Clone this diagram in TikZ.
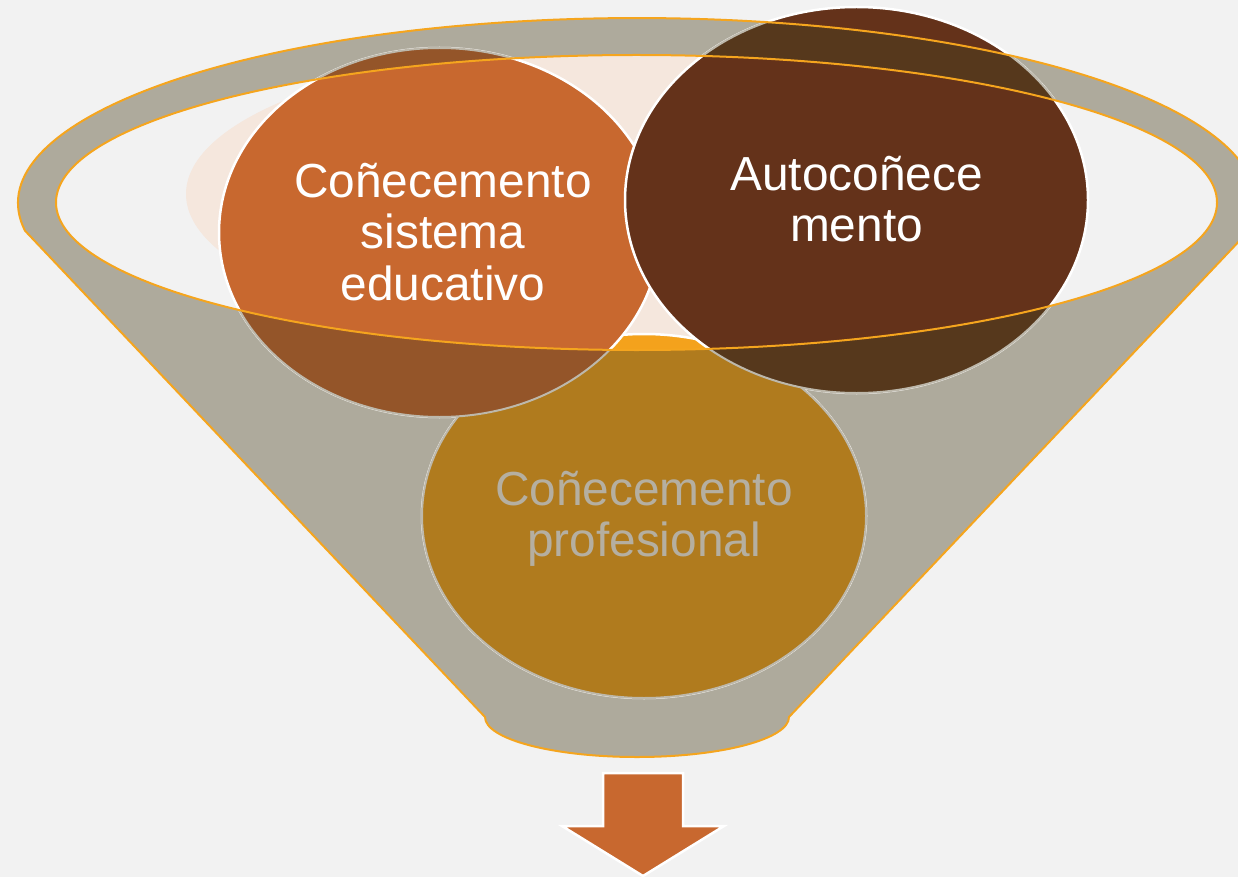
\documentclass[tikz,border=0pt]{standalone}
\usepackage{fontspec}
\setmainfont{Liberation Sans}
\definecolor{bg}{HTML}{F2F2F2}
\definecolor{fgray}{HTML}{AEAA9C}
\definecolor{fline}{HTML}{F5A51E}
\definecolor{peach}{HTML}{F5E7DD}
\definecolor{orng}{HTML}{C8682F}
\definecolor{orngD}{HTML}{945529}
\definecolor{brwn}{HTML}{64321A}
\definecolor{brwnD}{HTML}{56381C}
\definecolor{gold}{HTML}{F4A21C}
\definecolor{goldD}{HTML}{B07B1E}
\definecolor{goldtxt}{HTML}{B5AFA1}
\definecolor{rimD}{HTML}{BDB8AB}
\newcommand\funnelpath{(25,230.7) arc[start angle=171.4, end angle=368.6, x radius=619, y radius=185] -- (789,717) arc[start angle=0, end angle=180, x radius=152, y radius=40] -- cycle}
\newcommand\innerpath{(636.5,202.5) ellipse[x radius=580.5, y radius=147.5]}
\newcommand\goldpath{(644,516) ellipse[x radius=222, y radius=182]}
\newcommand\orngpath{(439.5,232.5) ellipse[x radius=220.5, y radius=184.5]}
\newcommand\brwnpath{(856.5,200) ellipse[x radius=231.5, y radius=193]}
\begin{document}
\begin{tikzpicture}[x=1pt,y=-1pt,
  rimlight/.style={draw=white, line width=2.5pt},
  rimdark/.style={draw=rimD, line width=2pt},
  funline/.style={draw=fline, line width=2pt},
  label/.style={inner sep=0pt, align=center, font=\fontsize{47.8}{51.5}\selectfont}]
\fill[bg] (0,0) rectangle (1238,877);
\useasboundingbox (0,0) rectangle (1238,877);
% funnel body
\fill[fgray] \funnelpath;
\fill[bg] \innerpath;
\begin{scope}
  \clip \innerpath;
  \fill[peach] (636,194) ellipse[x radius=450, y radius=150];
\end{scope}
% circles, normal colours
\path[fill=gold, rimlight] \goldpath;
\path[fill=orng, rimlight] \orngpath;
\path[fill=brwn, rimlight] \brwnpath;
% circles where covered by the funnel wall
\begin{scope}[even odd rule]
  \clip \funnelpath \innerpath;
  \path[fill=goldD, rimdark] \goldpath;
  \path[fill=orngD, rimdark] \orngpath;
  \path[fill=brwnD, rimdark] \brwnpath;
\end{scope}
% funnel outlines
\path[funline] \funnelpath;
\path[funline] \innerpath;
% texts
\node[label, text=white] (ce) at (443,232) {Coñecemento\\sistema\\educativo};
\node[label, text=white] (ac) at (856.5,199) {Autocoñece\\mento};
\node[label, text=goldtxt] (cp) at (644,519) {Coñecemento\\profesional};
% arrow
\path[fill=orng, draw=white, line width=2.5pt, line join=miter]
  (603,773) -- (683,773) -- (683,826) -- (724,826) -- (643,876) -- (562,826) -- (603,826) -- cycle;
\end{tikzpicture}
\end{document}
